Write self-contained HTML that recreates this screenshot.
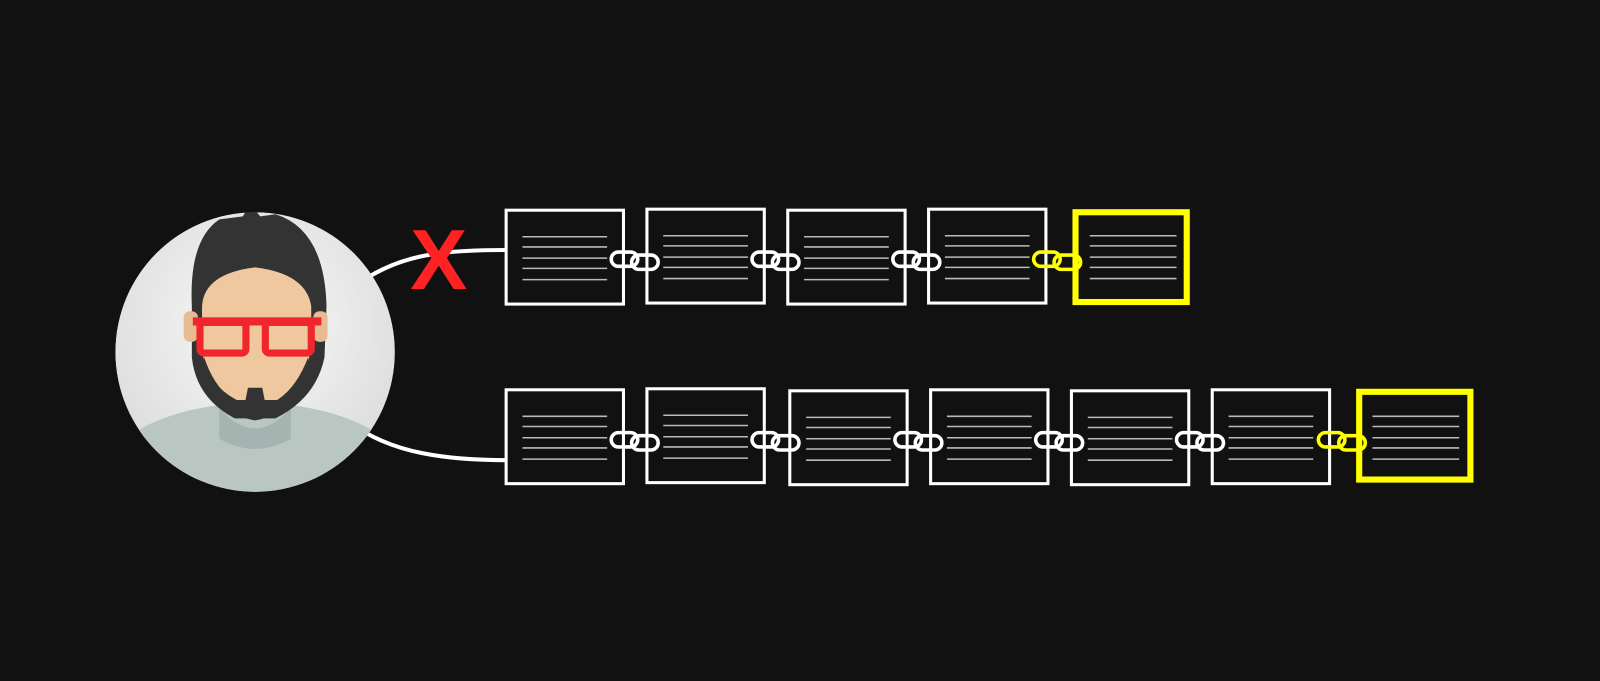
<!DOCTYPE html>
<html><head><style>html,body{margin:0;padding:0;background:#111;}svg{display:block}</style></head>
<body>
<svg width="1600" height="681" viewBox="0 0 1568 667.4" preserveAspectRatio="none" xmlns="http://www.w3.org/2000/svg">
<defs>
<clipPath id="c"><circle cx="250" cy="345" r="137"/></clipPath>
<radialGradient id="bg" cx="0.5" cy="0.4" r="0.6"><stop offset="0" stop-color="#fafafa"/><stop offset="1" stop-color="#dcdcdc"/></radialGradient>
<g id="lk" fill="none" stroke-width="3.5"><rect x="0" y="0" width="26" height="14" rx="7"/><rect x="20" y="3" width="26" height="14" rx="7"/></g>
</defs>
<rect x="-10" y="-10" width="1600" height="700" fill="#111"/>
<path d="M362 271 C 400 248, 440 245, 497 245" stroke="#fff" stroke-width="4" fill="none"/>
<path d="M358 424 C 390 442, 430 451, 497 451" stroke="#fff" stroke-width="4" fill="none"/>
<g clip-path="url(#c)">
<circle cx="250" cy="345" r="137" fill="url(#bg)"/>
<ellipse cx="250" cy="470" rx="150" ry="75" fill="#b9c6c2"/>
<path d="M215 400 Q250 440 285 400 L285 430 Q250 450 215 430Z" fill="#a5b4b0"/>
<path d="M188 300 Q185 235 215 215 L238 212 L245 200 L255 212 L270 210 Q318 225 320 300 L318 350 Q310 390 270 410 L230 410 Q192 390 188 350Z" fill="#333"/>
<path d="M198 300 Q200 268 250 262 Q300 268 305 300 L305 340 Q300 375 272 392 L232 392 Q200 375 198 340Z" fill="#f0c8a0"/>
<rect x="180" y="305" width="14" height="30" rx="6" fill="#e8bb92"/>
<rect x="307" y="305" width="14" height="30" rx="6" fill="#e8bb92"/>
<path d="M200 350 Q215 395 250 400 Q285 395 302 350 L302 372 Q290 405 250 412 Q210 405 198 372Z" fill="#333"/>
<path d="M243 380 L257 380 L262 405 L238 405Z" fill="#333"/>
<g fill="none" stroke="#f0262c" stroke-width="7">
<rect x="196" y="316" width="45" height="30" rx="4"/>
<rect x="260" y="316" width="45" height="30" rx="4"/>
</g>
<rect x="189" y="311" width="126" height="8" fill="#f0262c"/>
</g>
<text x="430" y="283" font-family="Liberation Sans, sans-serif" font-size="84" font-weight="bold" fill="#f22" text-anchor="middle">X</text>
<g fill="none">
<g stroke="#fff" stroke-width="3">
<rect x="496" y="206" width="115" height="92"/>
<rect x="634" y="205" width="115" height="92"/>
<rect x="772" y="206" width="115" height="92"/>
<rect x="910" y="205" width="115" height="92"/>
<rect x="496" y="382" width="115" height="92"/>
<rect x="634" y="381" width="115" height="92"/>
<rect x="774" y="383" width="115" height="92"/>
<rect x="912" y="382" width="115" height="92"/>
<rect x="1050" y="383" width="115" height="92"/>
<rect x="1188" y="382" width="115" height="92"/>
</g>
<g stroke="#ff0" stroke-width="6">
<rect x="1054" y="208" width="109" height="88"/>
<rect x="1332" y="384" width="109" height="86"/>
</g>
<g stroke="#bbb" stroke-width="1.5">
<path d="M512 232h83M512 242h83M512 253h83M512 263h83M512 274h83"/>
<path d="M650 231h83M650 241h83M650 252h83M650 262h83M650 273h83"/>
<path d="M788 232h83M788 242h83M788 253h83M788 263h83M788 274h83"/>
<path d="M926 231h83M926 241h83M926 252h83M926 262h83M926 273h83"/>
<path d="M1068 231h85M1068 241h85M1068 252h85M1068 262h85M1068 273h85"/>
<path d="M512 408h83M512 418h83M512 429h83M512 439h83M512 450h83"/>
<path d="M650 407h83M650 417h83M650 428h83M650 438h83M650 449h83"/>
<path d="M790 409h83M790 419h83M790 430h83M790 440h83M790 451h83"/>
<path d="M928 408h83M928 418h83M928 429h83M928 439h83M928 450h83"/>
<path d="M1066 409h83M1066 419h83M1066 430h83M1066 440h83M1066 451h83"/>
<path d="M1204 408h83M1204 418h83M1204 429h83M1204 439h83M1204 450h83"/>
<path d="M1345 408h85M1345 418h85M1345 429h85M1345 439h85M1345 450h85"/>
</g>
</g>
<g stroke="#fff">
<use href="#lk" x="599" y="247"/>
<use href="#lk" x="737" y="247"/>
<use href="#lk" x="875" y="247"/>
<use href="#lk" x="599" y="424"/>
<use href="#lk" x="737" y="424"/>
<use href="#lk" x="877" y="424"/>
<use href="#lk" x="1015" y="424"/>
<use href="#lk" x="1153" y="424"/>
</g>
<g stroke="#ff0">
<use href="#lk" x="1013" y="247"/>
<use href="#lk" x="1292" y="424"/>
</g>
</svg>
</body></html>
